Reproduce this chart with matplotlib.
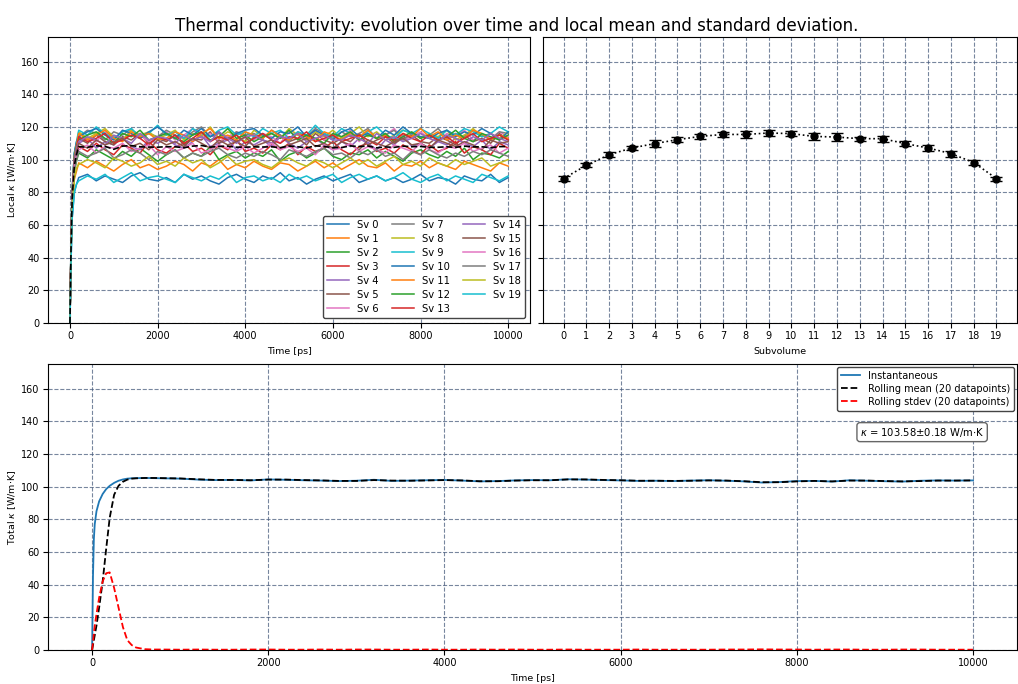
import numpy as np
import matplotlib
matplotlib.use("Agg")
import matplotlib.pyplot as plt

# ---- local kappa per subvolume, sampled in time ----
t_rise = [0, 25, 50, 100, 150]
t_plateau = list(range(200, 10001, 200))
t_local = t_rise + t_plateau

sv_rise = [
    [0, 38, 64, 80, 85], [0, 42, 70, 88, 93], [0, 44, 73, 93, 99], [0, 46, 76, 96, 103],
    [0, 47, 77, 98, 105], [0, 48, 78, 100, 107], [0, 49, 79, 102, 109], [0, 50, 80, 103, 110],
    [0, 50, 80, 103, 110], [0, 51, 81, 104, 111], [0, 51, 81, 104, 111], [0, 49, 79, 102, 109],
    [0, 49, 79, 101, 108], [0, 48, 78, 100, 107], [0, 48, 78, 100, 107], [0, 47, 77, 98, 105],
    [0, 46, 76, 96, 103], [0, 44, 74, 93, 100], [0, 43, 71, 89, 95], [0, 38, 64, 80, 85],
]

sv_plateau = [
    [89, 91, 87, 90, 88, 86, 90, 92, 88, 87, 89, 86, 91, 88, 90, 87, 85, 89, 91, 88,
     86, 90, 88, 92, 87, 89, 85, 88, 90, 87, 89, 91, 86, 88, 90, 87, 89, 86, 88, 91,
     87, 89, 88, 85, 90, 88, 87, 91, 86, 89],
    [98, 95, 99, 96, 93, 97, 100, 95, 97, 94, 96, 99, 97, 93, 98, 96, 100, 94, 97, 95,
     99, 96, 94, 98, 97, 93, 96, 99, 95, 98, 94, 97, 100, 96, 95, 98, 93, 97, 96, 99,
     95, 98, 96, 94, 99, 97, 95, 93, 98, 96],
    [104, 101, 106, 103, 100, 105, 102, 107, 103, 99, 103, 106, 101, 104, 102, 108, 100, 103, 105, 101,
     104, 102, 106, 99, 103, 105, 101, 104, 107, 102, 100, 104, 103, 106, 101, 105, 102, 99, 104, 106,
     103, 101, 105, 102, 107, 100, 104, 103, 101, 105],
    [108, 105, 110, 106, 103, 109, 107, 104, 111, 106, 104, 108, 110, 105, 107, 103, 109, 106, 112, 105,
     107, 104, 109, 106, 110, 103, 108, 105, 107, 111, 106, 103, 108, 110, 105, 107, 104, 109, 106, 103,
     109, 105, 107, 111, 104, 108, 106, 103, 110, 107],
    [110, 113, 107, 111, 109, 114, 108, 106, 112, 110, 113, 109, 107, 111, 115, 108, 110, 112, 106, 111,
     109, 112, 108, 114, 110, 107, 111, 113, 109, 106, 111, 108, 113, 110, 106, 112, 109, 115, 108, 110,
     107, 111, 109, 113, 110, 108, 112, 106, 111, 109],
    [113, 110, 115, 111, 109, 114, 112, 116, 110, 113, 111, 115, 109, 113, 112, 117, 110, 114, 111, 108,
     114, 112, 110, 115, 111, 113, 109, 116, 112, 110, 113, 111, 116, 109, 112, 114, 110, 113, 115, 111,
     110, 114, 112, 109, 115, 111, 113, 110, 116, 112],
    [116, 113, 111, 117, 114, 112, 118, 115, 111, 114, 117, 112, 115, 119, 113, 116, 111, 114, 117, 113,
     112, 116, 114, 110, 117, 115, 113, 118, 112, 115, 114, 118, 111, 116, 113, 115, 119, 112, 114, 117,
     113, 111, 116, 114, 118, 112, 115, 113, 117, 114],
    [114, 118, 116, 112, 117, 115, 119, 113, 116, 114, 118, 115, 113, 117, 120, 114, 116, 112, 117, 115,
     116, 113, 118, 115, 111, 117, 114, 119, 116, 113, 117, 114, 116, 119, 113, 115, 118, 112, 116, 114,
     115, 119, 113, 116, 114, 118, 115, 112, 117, 116],
    [117, 113, 116, 119, 114, 112, 118, 115, 117, 113, 115, 118, 112, 116, 114, 120, 113, 117, 115, 111,
     118, 114, 116, 113, 119, 115, 112, 117, 114, 118, 113, 116, 120, 114, 117, 112, 115, 118, 116, 113,
     116, 114, 118, 112, 115, 119, 114, 116, 113, 117],
    [118, 115, 120, 116, 113, 117, 119, 114, 116, 121, 115, 117, 113, 119, 116, 114, 118, 120, 115, 117,
     114, 119, 116, 118, 113, 117, 115, 121, 116, 114, 119, 116, 114, 117, 120, 115, 113, 118, 116, 119,
     116, 113, 118, 115, 119, 117, 114, 116, 120, 117],
    [114, 117, 119, 115, 112, 118, 116, 113, 117, 120, 116, 113, 118, 115, 119, 114, 117, 112, 116, 118,
     119, 115, 113, 117, 116, 120, 114, 118, 115, 112, 117, 119, 114, 116, 113, 118, 115, 120, 116, 114,
     113, 116, 118, 114, 117, 115, 119, 116, 112, 117],
    [116, 112, 115, 118, 113, 111, 117, 114, 116, 112, 113, 117, 115, 111, 116, 119, 113, 115, 112, 117,
     115, 113, 118, 114, 112, 116, 114, 111, 117, 115, 112, 116, 114, 118, 113, 115, 111, 116, 114, 119,
     114, 117, 112, 115, 113, 118, 116, 112, 115, 113],
    [112, 115, 117, 113, 110, 116, 114, 118, 112, 114, 116, 113, 111, 115, 117, 112, 114, 119, 113, 115,
     111, 114, 116, 113, 118, 112, 115, 113, 110, 116, 114, 117, 112, 115, 113, 116, 111, 114, 117, 113,
     115, 112, 114, 118, 113, 111, 116, 114, 112, 115],
    [114, 111, 113, 116, 110, 112, 115, 113, 109, 114, 112, 115, 110, 113, 117, 111, 114, 112, 115, 110,
     113, 116, 112, 110, 114, 113, 117, 111, 113, 115, 111, 113, 115, 112, 109, 114, 112, 116, 113, 111,
     115, 112, 114, 110, 113, 116, 111, 113, 115, 112],
    [111, 114, 112, 109, 115, 113, 110, 116, 112, 114, 113, 110, 115, 112, 114, 111, 117, 113, 110, 114,
     115, 112, 110, 114, 113, 116, 111, 113, 115, 112, 112, 115, 113, 110, 116, 112, 114, 111, 113, 116,
     113, 111, 115, 113, 110, 114, 112, 116, 113, 111],
    [110, 107, 112, 109, 111, 113, 108, 110, 106, 112, 109, 111, 108, 113, 110, 107, 112, 109, 111, 114,
     108, 110, 112, 107, 109, 111, 113, 108, 110, 107, 111, 109, 106, 112, 110, 108, 111, 113, 109, 110,
     107, 112, 110, 108, 111, 109, 106, 112, 110, 111],
    [106, 109, 104, 108, 107, 110, 105, 107, 109, 103, 108, 105, 107, 110, 104, 106, 109, 107, 105, 108,
     104, 107, 110, 106, 108, 105, 107, 103, 109, 106, 107, 110, 105, 108, 106, 104, 109, 107, 105, 110,
     106, 104, 108, 107, 110, 105, 107, 109, 104, 107],
    [105, 102, 104, 107, 101, 103, 106, 104, 100, 105, 103, 106, 101, 104, 102, 105, 107, 103, 101, 104,
     102, 105, 103, 100, 106, 104, 102, 105, 107, 103, 104, 101, 105, 103, 106, 102, 104, 100, 105, 103,
     106, 103, 101, 104, 102, 105, 103, 106, 104, 102],
    [97, 100, 98, 95, 101, 99, 96, 98, 102, 97, 99, 96, 101, 98, 100, 95, 98, 102, 97, 99,
     100, 97, 95, 99, 101, 98, 96, 100, 98, 95, 98, 101, 97, 100, 96, 99, 102, 97, 99, 96,
     101, 98, 96, 100, 97, 99, 101, 96, 98, 100],
    [87, 90, 88, 91, 86, 89, 92, 87, 89, 90, 88, 86, 91, 89, 87, 90, 88, 92, 86, 89,
     90, 87, 89, 86, 91, 88, 90, 87, 89, 91, 86, 89, 91, 88, 90, 87, 89, 92, 88, 86,
     89, 91, 87, 90, 88, 86, 91, 89, 87, 90],
]

# ---- mean and stdev per subvolume ----
subvolumes = list(range(20))
sv_mean = [88.4, 96.5, 103.0, 107.1, 109.8, 112.2, 114.2, 115.4, 115.4, 116.3,
           115.9, 114.2, 113.8, 112.8, 112.8, 109.8, 107.1, 103.7, 98.2, 88.4]
sv_std = [1.8, 1.2, 1.6, 1.4, 2.2, 1.4, 1.4, 1.8, 2.0, 1.8,
          1.6, 2.2, 2.2, 1.2, 1.8, 1.4, 1.6, 1.8, 1.6, 1.2]

# ---- total kappa ----
t_total = [0, 10, 20, 30, 50, 80, 120, 160, 200, 250, 300, 350, 400, 450, 500, 600, 700, 800,
           1000, 1200, 1400, 1600, 1800, 2000, 2200, 2400, 2600, 2800, 3000, 3200, 3400, 3600,
           3800, 4000, 4200, 4400, 4600, 4800, 5000, 5200, 5400, 5600, 5800, 6000, 6200, 6400,
           6600, 6800, 7000, 7200, 7400, 7600, 7800, 8000, 8200, 8400, 8600, 8800, 9000, 9200,
           9400, 9600, 9800, 10000]
k_inst = [0, 45, 68, 77, 85, 91, 95.5, 98.5, 100.5, 102.3, 103.6, 104.4, 104.9, 105.1, 105.2, 105.3,
          105.2, 105.1, 104.9, 104.3, 104.0, 104.1, 103.8, 104.4, 104.2, 103.9, 103.7, 103.4,
          103.6, 104.2, 103.5, 103.7, 103.9, 104.1, 103.7, 103.2, 103.4, 103.8, 104.0, 103.9,
          104.5, 104.3, 104.0, 103.8, 103.5, 103.6, 103.4, 103.7, 103.9, 103.6, 103.2, 102.5,
          102.8, 103.4, 103.5, 103.1, 103.9, 103.6, 103.3, 103.1, 103.6, 103.8, 103.7, 103.8]
k_roll_mean = [0, 3, 6, 9, 15, 26, 42, 62, 81, 95, 100.5, 103, 104.3, 104.9, 105.1, 105.3,
               105.3, 105.2, 105.0, 104.5, 104.1, 104.1, 103.9, 104.3, 104.3, 104.0, 103.8, 103.5,
               103.5, 104.0, 103.7, 103.6, 103.8, 104.0, 103.8, 103.3, 103.3, 103.7, 103.9, 103.9,
               104.4, 104.4, 104.1, 103.9, 103.6, 103.6, 103.5, 103.6, 103.8, 103.7, 103.3, 102.7,
               102.7, 103.2, 103.5, 103.2, 103.7, 103.7, 103.4, 103.2, 103.4, 103.7, 103.7, 103.8]
k_roll_std = [0, 5, 10, 15, 22, 32, 42, 47, 47.5, 38, 26, 14, 6, 3, 1.5, 0.5,
              0.3, 0.3, 0.2, 0.3, 0.2, 0.2, 0.3, 0.3, 0.2, 0.2, 0.3, 0.2,
              0.3, 0.3, 0.2, 0.2, 0.3, 0.2, 0.2, 0.3, 0.2, 0.3, 0.2, 0.2,
              0.3, 0.2, 0.2, 0.2, 0.3, 0.2, 0.2, 0.2, 0.2, 0.3, 0.3, 0.4,
              0.3, 0.3, 0.2, 0.3, 0.3, 0.2, 0.2, 0.3, 0.3, 0.2, 0.2, 0.2]
kappa_text = r"$\kappa$ = 103.58$\pm$0.18 W/m$\cdot$K"

grid_kw = dict(color="#4a5d7e", linestyle="--", linewidth=0.8, alpha=0.75)

fig = plt.figure(figsize=(10.18, 6.84), dpi=100)
ax1 = fig.add_axes([0.0472, 0.5278, 0.4735, 0.418])
ax2 = fig.add_axes([0.5334, 0.5278, 0.4656, 0.418])
ax3 = fig.add_axes([0.0472, 0.0497, 0.9519, 0.418])

# top left: every subvolume over time
local = []
for i in range(20):
    y = sv_rise[i] + sv_plateau[i]
    local.append(y)
    ax1.plot(t_local, y, lw=1.1, label=f"Sv {i}")
ax1.plot(t_local, np.mean(local, axis=0), "k--", lw=1.2)
ax1.set_xlim(-500, 10500)
ax1.set_ylim(0, 175)
ax1.set_xticks(range(0, 10001, 2000))
ax1.set_yticks(range(0, 161, 20))
ax1.set_xlabel("Time [ps]", fontsize=6.8)
ax1.set_ylabel(r"Local $\kappa$ [W/m$\cdot$K]", fontsize=6.8)
ax1.yaxis.set_label_coords(-0.062, 0.5)
ax1.grid(True, **grid_kw)
leg = ax1.legend(ncol=3, loc="lower right", fontsize=7.2, handlelength=2.2,
                 columnspacing=1.3, labelspacing=0.4, framealpha=1, fancybox=True)
leg.get_frame().set_edgecolor("#444444")

# top right: mean and stdev per subvolume
ax2.errorbar(subvolumes, sv_mean, yerr=sv_std, fmt="o:", color="k", ms=5, capsize=4, lw=1.2)
ax2.set_xlim(-0.9, 19.9)
ax2.set_ylim(0, 175)
ax2.set_xticks(subvolumes)
ax2.set_yticks(range(0, 161, 20))
ax2.set_yticklabels([])
ax2.set_xlabel("Subvolume", fontsize=6.8)
ax2.grid(True, **grid_kw)

# bottom: total kappa
ax3.plot(t_total, k_inst, color="tab:blue", lw=1.3, label="Instantaneous")
ax3.plot(t_total, k_roll_mean, "k--", lw=1.3, label="Rolling mean (20 datapoints)")
ax3.plot(t_total, k_roll_std, "r--", lw=1.3, label="Rolling stdev (20 datapoints)")
ax3.set_xlim(-500, 10500)
ax3.set_ylim(0, 175)
ax3.set_xticks(range(0, 10001, 2000))
ax3.set_yticks(range(0, 161, 20))
ax3.set_xlabel("Time [ps]", fontsize=6.8)
ax3.set_ylabel(r"Total $\kappa$ [W/m$\cdot$K]", fontsize=6.8)
ax3.yaxis.set_label_coords(-0.031, 0.5)
ax3.grid(True, **grid_kw)
leg3 = ax3.legend(loc="upper right", fontsize=7, framealpha=1, labelspacing=0.3,
                  handlelength=2.0, borderaxespad=0.3)
leg3.get_frame().set_edgecolor("#444444")
ax3.text(0.902, 0.762, kappa_text, transform=ax3.transAxes, ha="center", va="center",
         fontsize=7.2, bbox=dict(boxstyle="round,pad=0.3", fc="white", ec="#666666"))

for ax in (ax1, ax2, ax3):
    ax.tick_params(labelsize=7, pad=2.5)

fig.suptitle("Thermal conductivity: evolution over time and local mean and standard deviation.",
             fontsize=12, x=0.508, y=0.975)

fig.savefig("out.png", dpi=100)
